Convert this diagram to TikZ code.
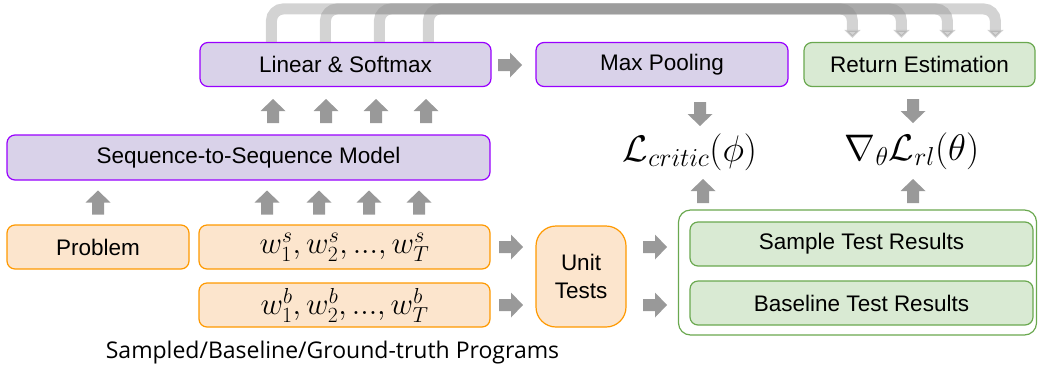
\RequirePackage{fix-cm}
\documentclass[tikz,border=0pt]{standalone}
\usepackage{fontspec}
\newfontfamily\arialf{Liberation Sans}
\newfontfamily\opensf{Open Sans}
\usetikzlibrary{arrows.meta,calc}
\definecolor{purfill}{HTML}{D9D2E9}
\definecolor{purline}{HTML}{9900FF}
\definecolor{orafill}{HTML}{FCE5CD}
\definecolor{oraline}{HTML}{FF9900}
\definecolor{grnfill}{HTML}{D9EAD3}
\definecolor{grnline}{HTML}{6AA84F}
\definecolor{arrgray}{HTML}{999999}
\definecolor{topgray}{HTML}{8C8C8C}
\begin{document}
\begin{tikzpicture}[x=1pt,y=-1pt,
 box/.style={draw, line width=1.2pt, rounded corners=8pt, minimum height=44pt, inner sep=0pt, font=\arialf\fontsize{22.5}{28}\selectfont},
 purbox/.style={box, fill=purfill, draw=purline},
 orabox/.style={box, fill=orafill, draw=oraline},
 grnbox/.style={box, fill=grnfill, draw=grnline},
 wmath/.style={font=\fontsize{31}{34}\selectfont},
 blockarrow/.pic={\fill[arrgray] (-12,-6)--(0,-6)--(0,-12.5)--(12,0)--(0,12.5)--(0,6)--(-12,6)--cycle;},
 topline/.style={draw=topgray, line width=11pt, opacity=0.38, rounded corners=12pt, -{Triangle[width=16pt,length=8pt]}},
 mathlbl/.style={inner sep=0pt, font=\fontsize{37}{40}\selectfont},
]
\useasboundingbox (0,0) rectangle (1038,368);

% boxes
\node[purbox, minimum width=291pt] (ls) at (345.5,64.5) {Linear \& Softmax};
\node[purbox, minimum width=252pt] (mp) at (662,64.5) {Max Pooling};
\node[grnbox, minimum width=231pt] (re) at (919.5,64.5) {Return Estimation};
\node[purbox, minimum width=483pt, minimum height=45pt] (s2s) at (248.5,157.5) {Sequence-to-Sequence Model};
\node[orabox, minimum width=182pt] (prob) at (98,247) {Problem};
\node[orabox, minimum width=291pt, wmath] (ws) at (344.5,247) {$w_1^s, w_2^s, ..., w_T^s$};
\node[orabox, minimum width=291pt, wmath] (wb) at (344.5,305) {$w_1^b, w_2^b, ..., w_T^b$};
\node[orabox, minimum width=90pt, minimum height=101pt, rounded corners=20pt, align=center] (ut) at (581,276.5) {Unit\\Tests};
\node[draw=grnline, line width=1.2pt, rounded corners=12pt, minimum width=358pt, minimum height=125pt, inner sep=0pt] (cont) at (857.5,272.5) {};
\node[grnbox, minimum width=343pt] (str) at (861.5,244) {Sample Test Results};
\node[grnbox, minimum width=343pt] (btr) at (861.5,303) {Baseline Test Results};
\node[mathlbl] (lc) at (690,152) {$\mathcal{L}_{critic}(\phi)$};
\node[mathlbl] (ng) at (912,151) {$\nabla_\theta\mathcal{L}_{rl}(\theta)$};
\node[anchor=base, inner sep=0pt, font=\opensf\fontsize{23}{26}\selectfont] (lbl) at (332.5,358) {Sampled/Baseline/Ground-truth Programs};

% top connectors
\draw[topline] ([xshift=72pt]ls.north west) -- ++(0,-33) -| ([xshift=192pt,yshift=4pt]re.north west);
\draw[topline] ([xshift=126pt]ls.north west) -- ++(0,-33) -| ([xshift=144pt,yshift=4pt]re.north west);
\draw[topline] ([xshift=180pt]ls.north west) -- ++(0,-33) -| ([xshift=98pt,yshift=4pt]re.north west);
\draw[topline] ([xshift=229pt]ls.north west) -- ++(0,-33) -| ([xshift=49pt,yshift=4pt]re.north west);

% block arrows
\foreach \x in {273,326,376,426} \pic[rotate=90] at (\x,111) {blockarrow};
\foreach \x in {98,267,319,369,419} \pic[rotate=90] at (\x,202.5) {blockarrow};
\pic at (510,65) {blockarrow};
\pic at (511,247) {blockarrow};
\pic at (511,305) {blockarrow};
\pic at (655,247) {blockarrow};
\pic at (655,305) {blockarrow};
\pic[rotate=-90] at (700,114) {blockarrow};
\pic[rotate=-90] at (913,111) {blockarrow};
\pic[rotate=90] at (703,191) {blockarrow};
\pic[rotate=90] at (913,191) {blockarrow};
\end{tikzpicture}
\end{document}
